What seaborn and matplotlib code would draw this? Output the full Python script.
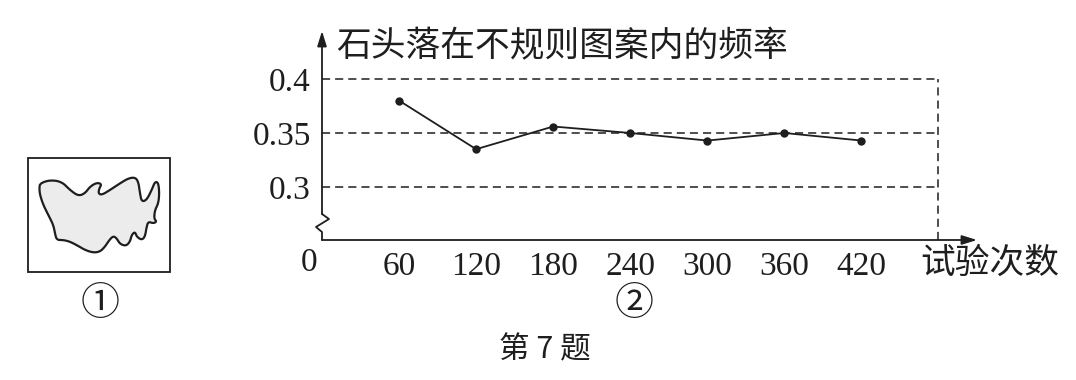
import numpy as np
import pandas as pd
import matplotlib
matplotlib.use('Agg')
import matplotlib.pyplot as plt
import seaborn as sns
from matplotlib.patches import Polygon, Rectangle

# ---- data ----
trials = [60, 120, 180, 240, 300, 360, 420]
freq = [0.38, 0.335, 0.356, 0.35, 0.343, 0.35, 0.343]
xtick_labels = ['60', '120', '180', '240', '300', '360', '420']
grid_levels = [0.3, 0.35, 0.4]
ytick_labels = ['0.3', '0.35', '0.4']
grid_x_end = 480
y_title = '石头落在不规则图案内的频率'
x_title = '试验次数'
caption = '第 7 题'
fig1_label = '①'
fig2_label = '②'

sns.set_style('white')
plt.rcParams['font.family'] = ['Liberation Serif', 'Noto Sans CJK SC', 'DejaVu Sans']
INK = '#1e1e1e'
CJK = ['Noto Sans CJK SC', 'DejaVu Sans']
SERIF = ['Liberation Serif', 'DejaVu Serif']

W, H = 1076, 380
fig = plt.figure(figsize=(W / 100, H / 100), dpi=100)
fig.patch.set_facecolor('white')

# main axes (pixel-aligned)
ax = fig.add_axes([322 / W, (H - 240) / H, 655 / W, 207 / H])
ax.set_facecolor('none')
df = pd.DataFrame({'trials': trials, 'freq': freq})
sns.lineplot(data=df, x='trials', y='freq', marker='o', color=INK, linewidth=1.3,
             markersize=6, markeredgewidth=0, ax=ax, zorder=5)
ax.set_xlim(0, 510)
ax.set_ylim(0.2509, 0.4426)
for lv in grid_levels:
    ax.plot([0, grid_x_end], [lv, lv], ls=(0, (5.3, 3.3)), color=INK, lw=1.1, zorder=2)
ax.plot([grid_x_end, grid_x_end], [ax.get_ylim()[0], max(grid_levels)],
        ls=(0, (5.3, 3.3)), color=INK, lw=1.1, zorder=2)
for s in ax.spines.values():
    s.set_visible(False)
ax.set_xticks(trials)
ax.set_xticklabels(xtick_labels, family=SERIF)
ax.set_yticks(grid_levels)
ax.set_yticklabels(ytick_labels, family=SERIF)
ax.tick_params(axis='x', direction='in', length=5, width=1.1, color=INK, pad=8,
               labelsize=24, labelcolor=INK)
ax.tick_params(axis='y', length=0, pad=8, labelsize=24, labelcolor=INK)
ax.set_xlabel('')
ax.set_ylabel('')

# overlay in pixel coordinates for axes arrows and decorations
ov = fig.add_axes([0, 0, 1, 1])
ov.set_xlim(0, W)
ov.set_ylim(H, 0)
ov.axis('off')
ov.patch.set_alpha(0)

arrow = dict(arrowstyle='-|>,head_length=0.9,head_width=0.28', color=INK, lw=1.3,
             shrinkA=0, shrinkB=0)
ov.annotate('', xy=(977, 240), xytext=(322, 240), arrowprops=arrow)
ov.annotate('', xy=(322, 31), xytext=(322, 214), arrowprops=arrow)
ov.plot([322, 329, 316, 322, 322], [214, 219, 227, 232, 240], color=INK, lw=1.3,
        solid_joinstyle='round')

ov.text(336, 47, y_title, fontsize=25, family=CJK, color=INK, ha='left', va='center')
ov.text(920, 263, x_title, fontsize=25, family=CJK, color=INK, ha='left', va='center')
ov.text(309, 263, '0', fontsize=24, family=SERIF, color=INK, ha='center', va='center')
ov.text(634, 304, fig2_label, fontsize=28, family=CJK, color=INK, ha='center', va='center')
ov.text(100, 304, fig1_label, fontsize=28, family=CJK, color=INK, ha='center', va='center')
ov.text(545, 350, caption, fontsize=22, family=CJK, color=INK, ha='center', va='center')

# figure ①: rectangle with irregular blob
ov.add_patch(Rectangle((28, 158), 142, 114, fill=False, ec=INK, lw=1.3))
blob_zoom = [(120, 130), (150, 120), (185, 125), (210, 150), (235, 168), (255, 160),
             (270, 140), (290, 128), (305, 132), (298, 145), (295, 160), (305, 165),
             (330, 150), (360, 130), (385, 115), (405, 112), (415, 125), (420, 160),
             (425, 185), (440, 180), (455, 150), (465, 125), (475, 128), (478, 160),
             (475, 190), (465, 210), (462, 235), (470, 245), (460, 250), (445, 245),
             (440, 260), (435, 290), (425, 300), (410, 290), (405, 275), (395, 285),
             (390, 305), (378, 318), (360, 312), (350, 295), (340, 288), (328, 300),
             (315, 320), (300, 335), (280, 338), (255, 330), (235, 318), (210, 305),
             (190, 300), (170, 300), (165, 280), (160, 255), (145, 225), (130, 195),
             (120, 165), (118, 145)]
pts = np.array([(x / 3, 140 + y / 3) for x, y in blob_zoom])
# Chaikin corner-cutting to smooth the outline of the illustration
for _ in range(3):
    nxt = np.roll(pts, -1, axis=0)
    q = 0.75 * pts + 0.25 * nxt
    r = 0.25 * pts + 0.75 * nxt
    pts = np.empty((2 * len(q), 2))
    pts[0::2] = q
    pts[1::2] = r
ov.add_patch(Polygon(pts, closed=True, fc='#ececec', ec=INK, lw=1.6, joinstyle='round'))

fig.savefig('out.png', dpi=100, facecolor='white')
